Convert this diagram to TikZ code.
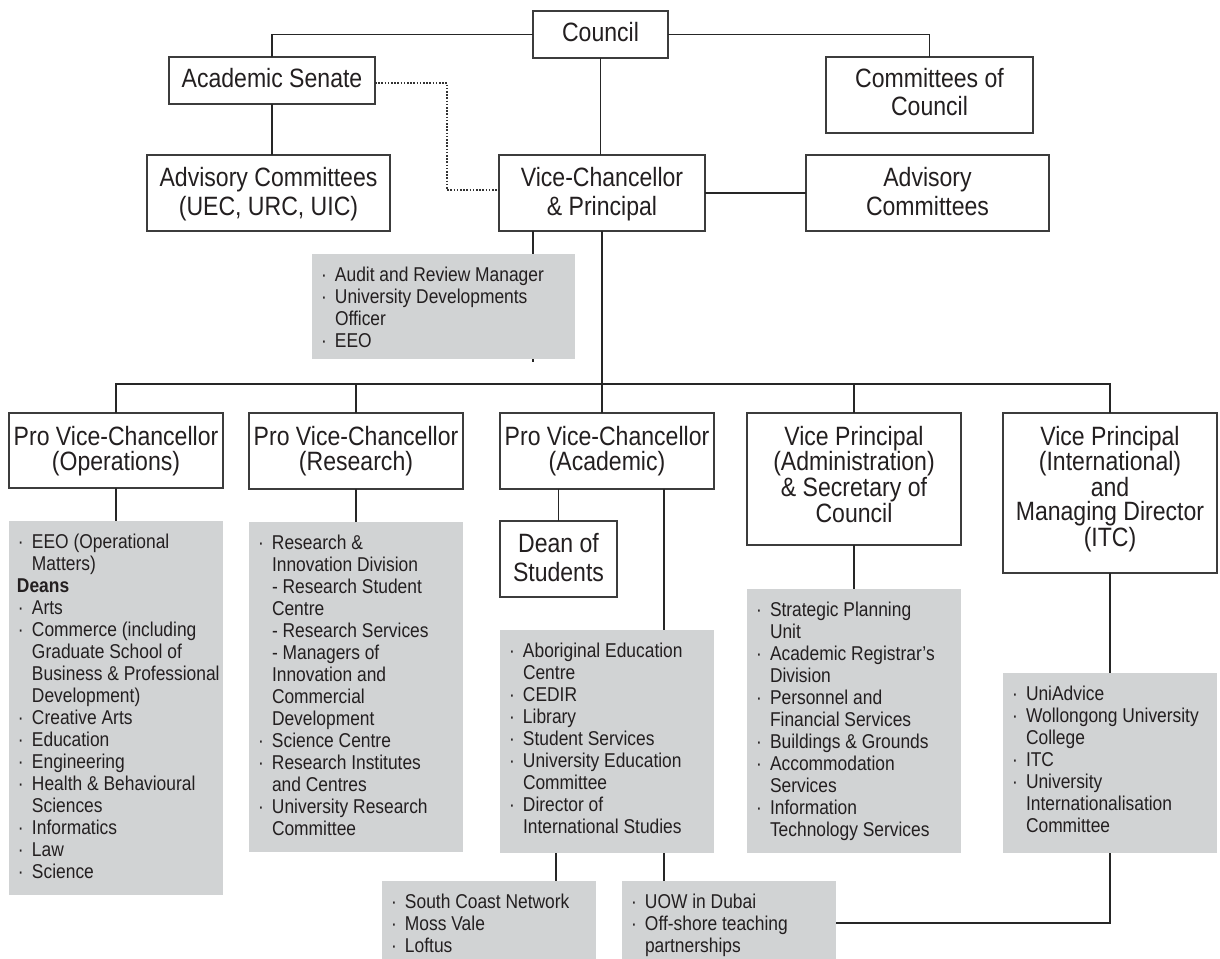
\documentclass[tikz,border=0pt]{standalone}
\usepackage{fontspec}
\setmainfont{Liberation Sans}[FakeStretch=0.87]
\newfontfamily\gfont{Liberation Sans}[FakeStretch=0.87]
\definecolor{txt}{HTML}{231F20}
\definecolor{gfill}{HTML}{D1D3D4}
\definecolor{bord}{HTML}{3C3C3C}
\newcommand\btx[5]{\parbox[c][#2][t]{#1}{\centering\fontsize{26.5}{#4}\selectfont\rule{0pt}{#3}#5}}
\newcommand\gtx[3]{\parbox[c][#2][t]{#1}{\raggedright\leftskip=9pt\relax\gfont\fontsize{20}{22}\selectfont\rule{0pt}{27.5pt}#3}}
\newcommand\bul{\makebox[14pt][l]{·}}
\newcommand\ind{\hspace*{14pt}}
\tikzset{
 box/.style={draw=bord, line width=1.4pt, fill=white, inner sep=0pt, outer sep=0pt, anchor=north west, text=txt},
 gbox/.style={fill=gfill, inner sep=0pt, outer sep=0pt, anchor=north west, text=txt},
 conn/.style={draw=black!85, line width=1.2pt},
 dots/.style={draw=black!80, line width=1.1pt, dash pattern=on 1.6pt off 1.6pt}
}
\begin{document}
\begin{tikzpicture}[x=1pt,y=-1pt]
\useasboundingbox (0,0) rectangle (1220,958);
\fill[white] (0,0) rectangle (1220,958);
% top level
\node[box] (council) at (533,11) {\btx{135pt}{47pt}{31pt}{28pt}{Council}};
\node[box] (senate) at (169,57) {\btx{206pt}{47pt}{31pt}{28pt}{Academic Senate}};
\node[box] (cc) at (826,57) {\btx{207pt}{76pt}{31pt}{28pt}{Committees of\\Council}};
\node[box] (adv1) at (147,155) {\btx{243pt}{76pt}{31pt}{29pt}{Advisory Committees\\(UEC, URC, UIC)}};
\node[box] (vc) at (499,155) {\btx{206pt}{76pt}{31pt}{29pt}{Vice-Chancellor\\\& Principal}};
\node[box] (adv2) at (806,155) {\btx{243pt}{76pt}{31pt}{29pt}{Advisory\\Committees}};
\draw[conn] (council.west) -| (senate.north);
\draw[conn] (council.east) -| (cc.north);
\draw[conn] (council.south) -- (council.south |- vc.north);
\draw[conn] (senate.south) -- (senate.south |- adv1.north);
\draw[dots] ([yshift=-2.5pt]senate.east) -- ++(72,0) |- ([yshift=3pt]vc.west);
\draw[conn] (vc.east) -- (adv2.west);
\coordinate (vtick) at (533,362);
\draw[conn] ([xshift=34pt]vc.south west) -- (vtick);
\node[gbox] (vcg) at (312,254) {\gtx{263pt}{105pt}{\bul Audit and Review Manager\\\bul University Developments\\\ind Officer\\\bul EEO}};
\draw[conn] (vc.south) -- ++(0,153) coordinate (hub);
% second level
\node[box] (ops) at (9,413) {\btx{214pt}{75pt}{32pt}{25pt}{Pro Vice-Chancellor\\(Operations)}};
\node[box] (res) at (249,413) {\btx{214pt}{76pt}{32pt}{25pt}{Pro Vice-Chancellor\\(Research)}};
\node[box] (acad) at (500,413) {\btx{214pt}{76pt}{32pt}{25pt}{Pro Vice-Chancellor\\(Academic)}};
\node[box] (adm) at (747,413) {\btx{214pt}{132pt}{32pt}{24.5pt}{Vice Principal\\(Administration)\\\& Secretary of\\Council}};
\node[box] (intl) at (1003,413) {\btx{214pt}{160pt}{32pt}{24.5pt}{Vice Principal\\(International)\\and\\Managing Director\\(ITC)}};
\draw[conn] (hub) -| (ops.north);
\draw[conn] (hub) -| (res.north);
\draw[conn] (hub) -- (hub |- acad.north);
\draw[conn] (hub) -| (adm.north);
\draw[conn] (hub) -| (intl.north);
% third level
\node[gbox] (opsg) at (9,521) {\gtx{214pt}{374pt}{\bul EEO (Operational\\\ind Matters)\\\hspace*{-1pt}\textbf{Deans}\\\bul Arts\\\bul Commerce (including\\\ind Graduate School of\\\ind Business \& Professional\\\ind Development)\\\bul Creative Arts\\\bul Education\\\bul Engineering\\\bul Health \& Behavioural\\\ind Sciences\\\bul Informatics\\\bul Law\\\bul Science}};
\node[gbox] (resg) at (249,522) {\gtx{214pt}{330pt}{\bul Research \&\\\ind Innovation Division\\\ind - Research Student\\\ind Centre\\\ind - Research Services\\\ind - Managers of\\\ind Innovation and\\\ind Commercial\\\ind Development\\\bul Science Centre\\\bul Research Institutes\\\ind and Centres\\\bul University Research\\\ind Committee}};
\node[box] (dean) at (500,521) {\btx{117pt}{76pt}{31pt}{29pt}{Dean of\\Students}};
\node[gbox] (acadg) at (500,630) {\gtx{214pt}{223pt}{\bul Aboriginal Education\\\ind Centre\\\bul CEDIR\\\bul Library\\\bul Student Services\\\bul University Education\\\ind Committee\\\bul Director of\\\ind International Studies}};
\node[gbox] (admg) at (747,589) {\gtx{214pt}{264pt}{\bul Strategic Planning\\\ind Unit\\\bul Academic Registrar’s\\\ind Division\\\bul Personnel and\\\ind Financial Services\\\bul Buildings \& Grounds\\\bul Accommodation\\\ind Services\\\bul Information\\\ind Technology Services}};
\node[gbox] (intlg) at (1003,673) {\gtx{214pt}{180pt}{\bul UniAdvice\\\bul Wollongong University\\\ind College\\\bul ITC\\\bul University\\\ind Internationalisation\\\ind Committee}};
\node[gbox] (scg) at (382,881) {\gtx{214pt}{84pt}{\bul South Coast Network\\\bul Moss Vale\\\bul Loftus}};
\node[gbox] (uowg) at (622,881) {\gtx{214pt}{84pt}{\bul UOW in Dubai\\\bul Off-shore teaching\\\ind partnerships}};
\draw[conn] (ops.south) -- (opsg.north);
\draw[conn] (res.south) -- (resg.north);
\draw[conn] (dean.north |- acad.south) -- (dean.north);
\draw[conn] ([xshift=164pt]acad.south west) -- ([xshift=164pt]acad.south west |- acadg.north);
\draw[conn] (adm.south) -- (admg.north);
\draw[conn] (intl.south) -- (intlg.north);
\draw[conn] ([xshift=56pt]acadg.south west) -- ([xshift=56pt]acadg.south west |- scg.north);
\draw[conn] ([xshift=164pt]acadg.south west) -- ([xshift=164pt]acadg.south west |- uowg.north);
\draw[conn] (uowg.east) -| (intlg.south);
\end{tikzpicture}
\end{document}
